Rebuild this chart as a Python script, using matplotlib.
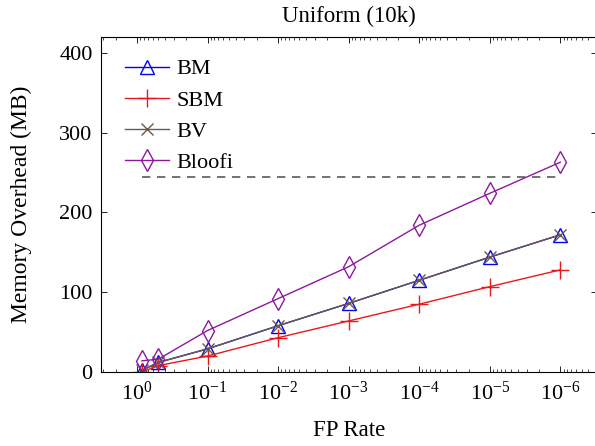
import matplotlib
matplotlib.use("Agg")
import matplotlib.pyplot as plt
from matplotlib.ticker import LogLocator, MultipleLocator, NullFormatter

plt.rcParams['font.family'] = 'Liberation Serif'
plt.rcParams['mathtext.fontset'] = 'custom'
plt.rcParams['mathtext.rm'] = 'Liberation Serif'
plt.rcParams['mathtext.it'] = 'Liberation Serif:italic'

# FP rate on x, memory in MB on y
fp = [0.85, 0.5, 1e-1, 1e-2, 1e-3, 1e-4, 1e-5, 1e-6]
bm = [2, 12, 29, 58, 86, 115, 144, 172]
sbm = [0, 8, 20, 43, 64, 85, 107, 128]
bv = [2, 12, 29, 58, 86, 115, 144, 172]
bloofi = [14, 16, 52, 92, 132, 184, 224, 263]
limit = 244

fig = plt.figure(figsize=(5.95, 4.46), dpi=100)
ax = fig.add_axes([101/595, 1-372/446, 496/595, 335/446])

ax.plot(fp, bm, '-', color='blue', marker='^', ms=10, mfc='none', mew=1.0, lw=1.0, label='BM')
ax.plot(fp, sbm, '-', color='#e8191c', marker='+', ms=13, mew=1.0, lw=1.0, label='SBM')
ax.plot(fp, bv, '-', color='#6e5848', marker='x', ms=8, mew=1.0, lw=1.0, label='BV')
ax.plot(fp, bloofi, '-', color='#8b1a9b', marker='d', ms=11, mfc='none', mew=1.0, lw=1.0, label='Bloofi')
ax.plot([fp[0], fp[-1]], [limit, limit], '--', color='#5a5a5a', lw=1.2, dashes=(5, 4))

ax.set_xscale('log')
ax.set_xlim(10**0.51, 10**-6.52)
ax.set_ylim(0, 420)
ax.set_xticks([1, 1e-1, 1e-2, 1e-3, 1e-4, 1e-5, 1e-6])
ax.xaxis.set_minor_locator(LogLocator(base=10, subs=range(2, 10), numticks=20))
ax.xaxis.set_minor_formatter(NullFormatter())
ax.yaxis.set_major_locator(MultipleLocator(100))

ax.tick_params(which='both', direction='in', top=True, right=True, labelsize=16)
ax.tick_params(which='major', length=4.5, width=0.6)
ax.tick_params(which='minor', length=2.5, width=0.5)
ax.tick_params(axis='x', pad=7)
ax.tick_params(axis='y', pad=6)
for s in ax.spines.values():
    s.set_linewidth(0.8)

ax.set_xlabel('FP Rate', fontsize=16.5)
ax.set_ylabel('Memory Overhead (MB)', fontsize=17)
ax.xaxis.set_label_coords(0.5, -0.143)
ax.yaxis.set_label_coords(-0.139, 0.5)
ax.set_title('Uniform (10k)', fontsize=16.5, pad=10.5)

ax.legend(loc='upper left', frameon=False, fontsize=16, handlelength=2.0,
          handletextpad=0.3, labelspacing=0.48, borderpad=0, borderaxespad=0,
          bbox_to_anchor=(24/496, 0.935))

fig.savefig('out.png', dpi=100)
